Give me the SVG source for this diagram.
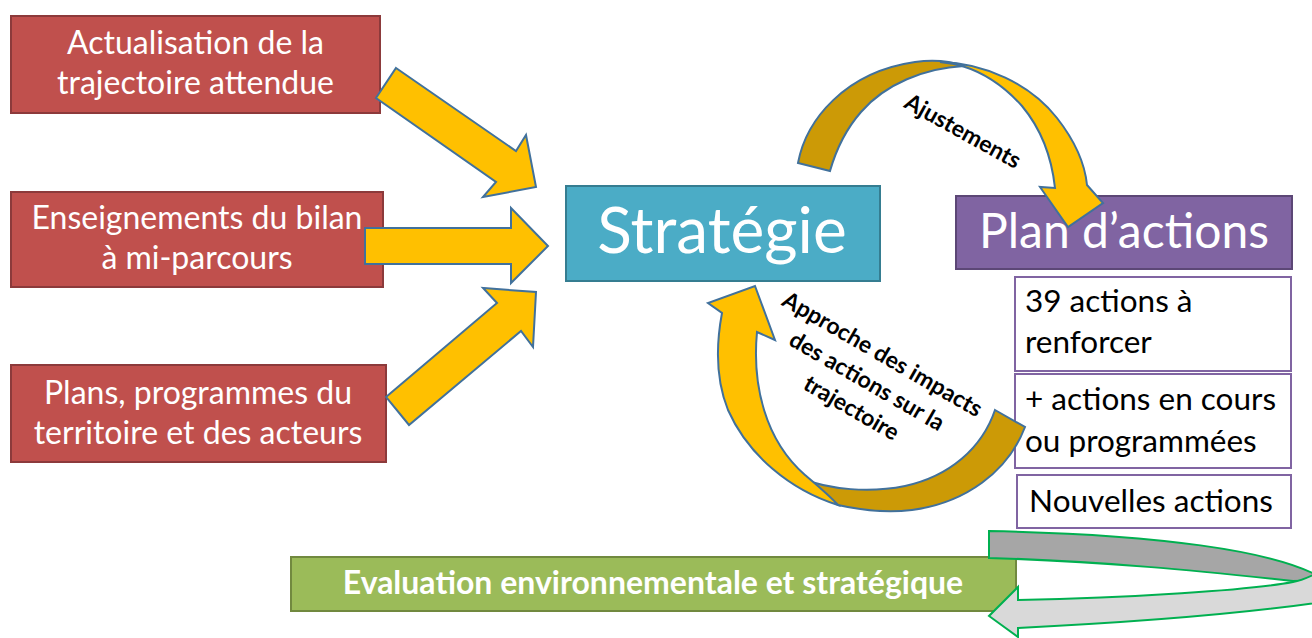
<svg xmlns="http://www.w3.org/2000/svg" width="1312" height="638" viewBox="0 0 1312 638">
  <style>
    .src rect { fill: #C0504D; stroke: #8C3A3B; stroke-width: 2; }
    .src text { font-family: Lato, "Open Sans", sans-serif; font-size: 32px; fill: #FFFFFF; text-anchor: middle; }
    .list rect { fill: #FFFFFF; stroke: #8064A2; stroke-width: 2; }
    .list text { font-family: Lato, "Open Sans", sans-serif; font-size: 31.5px; fill: #000000; }
    .big { font-family: Lato, "Open Sans", sans-serif; fill: #FFFFFF; text-anchor: middle; }
    .flow { fill: #FFC000; stroke: #41719C; stroke-width: 2; stroke-linejoin: miter; }
    .flow-back { fill: #CC9A06; stroke: #41719C; stroke-width: 2; }
    .lbl { font-family: Lato, "Open Sans", sans-serif; font-weight: bold; fill: #000000; text-anchor: middle; }
    .loop-back { fill: #A6A6A6; stroke: #00B050; stroke-width: 2; }
    .loop-front { fill: #D9D9D9; stroke: #00B050; stroke-width: 2; }
  </style>

  <!-- input boxes -->
  <g id="actualisation" class="src">
    <rect x="11" y="16" width="369" height="97"/>
    <text x="195.5" y="54">Actualisation de la</text>
    <text x="195.5" y="94">trajectoire attendue</text>
  </g>
  <g id="enseignements" class="src">
    <rect x="11" y="192" width="372" height="95"/>
    <text x="197" y="229">Enseignements du bilan</text>
    <text x="197" y="269">à mi-parcours</text>
  </g>
  <g id="plans" class="src">
    <rect x="11" y="365" width="375" height="97"/>
    <text x="198" y="404">Plans, programmes du</text>
    <text x="198" y="444">territoire et des acteurs</text>
  </g>

  <!-- central strategy -->
  <g id="strategie">
    <rect x="566" y="186" width="314" height="95" fill="#4BACC6" stroke="#357D91" stroke-width="2"/>
    <text class="big" x="722" y="253" font-size="64">Stratégie</text>
  </g>

  <!-- action plan -->
  <g id="plan-actions">
    <rect x="956" y="196" width="336" height="73" fill="#8064A2" stroke="#5C4776" stroke-width="2"/>
    <text class="big" x="1124" y="248" font-size="48">Plan d’actions</text>
  </g>
  <g id="actions-renforcer" class="list">
    <rect x="1015" y="277" width="276" height="94"/>
    <text x="1025" y="312">39 actions à</text>
    <text x="1025" y="353">renforcer</text>
  </g>
  <g id="actions-en-cours" class="list">
    <rect x="1015" y="374" width="276" height="94"/>
    <text x="1025" y="410">+ actions en cours</text>
    <text x="1025" y="452">ou programmées</text>
  </g>
  <g id="nouvelles-actions" class="list">
    <rect x="1017" y="475" width="274" height="53"/>
    <text x="1151" y="512" text-anchor="middle">Nouvelles actions</text>
  </g>

  <!-- evaluation -->
  <g id="evaluation">
    <rect x="291" y="557" width="725" height="54" fill="#9BBB59" stroke="#71893F" stroke-width="2"/>
    <text class="big" x="653" y="594" font-size="32" font-weight="bold">Evaluation environnementale et stratégique</text>
  </g>

  <!-- connectors -->
  <g id="connectors">
    <!-- inputs feeding the strategy -->
    <polygon class="flow" points="396,68 516,151 526,135 536,187 483,197 496,182 376,98"/>
    <polygon class="flow" points="365,228 511,228 511,208 548,246 511,283 511,264 365,264"/>
    <polygon class="flow" points="386,397 497,303 483,288 536,292 533,347 521,331 409,425"/>

    <!-- strategy to action plan -->
    <path class="flow-back" d="M798,163 C806,120 845,72 915,62 C935,59 950,61 964,66 C925,68 885,84 861,112 C847,128 836,150 830,171 Z"/>
    <path class="flow" d="M940,62 C985,63 1030,84 1057,118 C1075,141 1085,165 1087,185 L1103,203 L1068,227 L1040,187 L1055,188 C1052,160 1042,130 1022,106 C1005,87 985,73 962,66 C955,64 948,63 940,62 Z"/>
    <text class="lbl" font-size="23" transform="translate(963,131) rotate(29)" y="8">Ajustements</text>

    <!-- action plan back to strategy -->
    <path class="flow-back" d="M995,410 L1025,427 C1008,472 965,503 912,510 C885,513 860,510 838,505 L800,478 C830,490 870,493 905,486 C950,476 982,448 995,410 Z"/>
    <path class="flow" d="M755,286 L775,340 L757,332 C752,385 765,440 805,475 C818,486 830,496 838,505 C790,490 748,455 728,410 C716,380 716,345 722,313 L708,303 Z"/>
    <g class="lbl" font-size="23" transform="translate(867,381) rotate(30)">
      <text y="-23">Approche des impacts</text>
      <text y="8">des actions sur la</text>
      <text y="39">trajectoire</text>
    </g>

    <!-- evaluation loop -->
    <path class="loop-back" d="M989,531 C1150,534 1280,550 1325,580 L1293,581 C1200,571 1100,561 989,558 Z"/>
    <path class="loop-front" d="M1018,600 C1130,598 1250,590 1293,582 C1305,580 1318,573 1330,566 L1335,600 C1260,612 1140,622 1018,628 L1018,637 L989,616 L1018,587 Z"/>
  </g>
</svg>
